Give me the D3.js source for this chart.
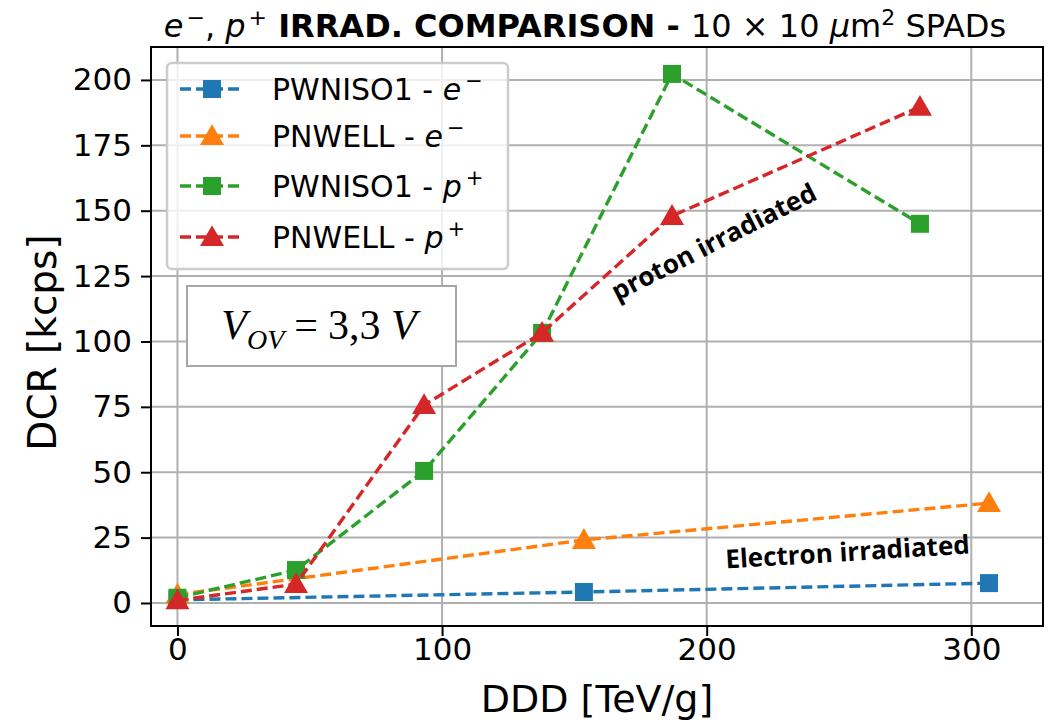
<!DOCTYPE html>
<html>
<head>
<meta charset="utf-8">
<script src="https://cdn.jsdelivr.net/npm/d3@7"></script>
<style>
  body { margin: 0; background: #fff; }
  text { font-family: "DejaVu Sans", sans-serif; fill: #000; }
</style>
</head>
<body>
<svg id="chart" width="1056" height="724"></svg>
<script>
// data
const dddE = [0, 153.6, 306.7];
const pwniso1E = [1.2, 4.2, 7.6];
const pnwellE = [3.2, 24.1, 38.2];
const dddP = [0, 44.8, 93.2, 137.8, 186.9, 280.6];
const pwniso1P = [2.0, 12.6, 50.5, 103.3, 202.3, 145.0];
const pnwellP = [1.0, 7.2, 75.7, 103.3, 148.0, 189.7];
const xTicks = [0, 100, 200, 300];
const yTicks = [0, 25, 50, 75, 100, 125, 150, 175, 200];

const series = [
  { name: "PWNISO1", part: "e", sup: "\u2212", x: dddE, y: pwniso1E, color: "#1f77b4", marker: "square" },
  { name: "PNWELL", part: "e", sup: "\u2212", x: dddE, y: pnwellE, color: "#ff7f0e", marker: "triangle" },
  { name: "PWNISO1", part: "p", sup: "+", x: dddP, y: pwniso1P, color: "#2ca02c", marker: "square" },
  { name: "PNWELL", part: "p", sup: "+", x: dddP, y: pnwellP, color: "#d62728", marker: "triangle" },
];

const svg = d3.select("#chart");
const m = { left: 151, right: 1043, top: 47, bottom: 626 };

const x = d3.scaleLinear().domain([-10, 327.1]).range([m.left, m.right]);
const y = d3.scaleLinear().domain([-8.8, 212.6]).range([m.bottom, m.top]);

// grid
const grid = svg.append("g").attr("class", "grid");
grid.selectAll(".gx").data(xTicks).join("line")
  .attr("x1", d => x(d)).attr("x2", d => x(d))
  .attr("y1", m.top).attr("y2", m.bottom)
  .attr("stroke", "#b0b0b0").attr("stroke-width", 2);
grid.selectAll(".gy").data(yTicks).join("line")
  .attr("x1", m.left).attr("x2", m.right)
  .attr("y1", d => y(d)).attr("y2", d => y(d))
  .attr("stroke", "#b0b0b0").attr("stroke-width", 2);

// axes
const xAxis = svg.append("g")
  .attr("transform", `translate(0,${m.bottom})`)
  .call(d3.axisBottom(x).tickValues(xTicks).tickSize(10).tickPadding(2));
const yAxis = svg.append("g")
  .attr("transform", `translate(${m.left},0)`)
  .call(d3.axisLeft(y).tickValues(yTicks).tickSize(10).tickPadding(9));
[xAxis, yAxis].forEach(a => {
  a.select(".domain").remove();
  a.selectAll(".tick line").attr("stroke", "#000").attr("stroke-width", 2);
  a.selectAll(".tick text").attr("font-size", 31).attr("font-family", "DejaVu Sans").attr("fill", "#000");
});

// markers
const sym = {
  square: d3.symbol().type(d3.symbolSquare).size(18 * 18),
  triangle: d3.symbol().type(d3.symbolTriangle).size(250),
};

const line = d3.line().x(d => x(d[0])).y(d => y(d[1]));
const plot = svg.append("g");
series.forEach(s => {
  const pts = s.x.map((v, i) => [v, s.y[i]]);
  const g = plot.append("g");
  g.append("path").datum(pts)
    .attr("d", line)
    .attr("fill", "none")
    .attr("stroke", s.color)
    .attr("stroke-width", 3.4)
    .attr("stroke-dasharray", "11,5");
  g.selectAll("path.mk").data(pts).join("path")
    .attr("class", "mk")
    .attr("d", sym[s.marker])
    .attr("transform", d => `translate(${x(d[0])},${y(d[1]) + (s.marker === "triangle" ? 2 : 0)})`)
    .attr("fill", s.color);
});

// frame
svg.append("rect")
  .attr("x", m.left).attr("y", m.top)
  .attr("width", m.right - m.left).attr("height", m.bottom - m.top)
  .attr("fill", "none").attr("stroke", "#000").attr("stroke-width", 2);

// legend
const lg = svg.append("g");
lg.append("rect")
  .attr("x", 167).attr("y", 63).attr("width", 341).attr("height", 206)
  .attr("rx", 5)
  .attr("fill", "#fff").attr("fill-opacity", 0.8)
  .attr("stroke", "#ccc").attr("stroke-width", 2.5);
const rowY = [89, 136, 186, 237];
series.forEach((s, i) => {
  const r = lg.append("g").attr("transform", `translate(0,${rowY[i]})`);
  r.append("line")
    .attr("x1", 180).attr("x2", 243).attr("y1", 0).attr("y2", 0)
    .attr("stroke", s.color).attr("stroke-width", 3.4)
    .attr("stroke-dasharray", "11,5");
  r.append("path")
    .attr("d", sym[s.marker])
    .attr("transform", `translate(212,${s.marker === "triangle" ? 2 : 0})`)
    .attr("fill", s.color);
  const t = r.append("text").attr("x", 272).attr("y", 11).attr("font-size", 30);
  t.append("tspan").text(s.name + " - ");
  t.append("tspan").attr("font-style", "italic").text(s.part);
  t.append("tspan").attr("font-size", 21).attr("dy", -12).attr("dx", 4).text(s.sup);
});

// V_OV box
const vb = svg.append("g");
vb.append("rect")
  .attr("x", 187).attr("y", 286).attr("width", 269).attr("height", 80)
  .attr("fill", "#fff").attr("stroke", "#a6a6a6").attr("stroke-width", 2);
const vt = vb.append("text")
  .attr("x", 319).attr("y", 339).attr("text-anchor", "middle")
  .style("font-family", "'Liberation Serif', serif").attr("font-size", 42);
vt.append("tspan").attr("font-style", "italic").text("V");
vt.append("tspan").attr("font-style", "italic").attr("font-size", 28).attr("dy", 10).text("OV");
vt.append("tspan").attr("dy", -10).attr("dx", 10).text("=");
vt.append("tspan").attr("dx", 10).text("3,3 ");
vt.append("tspan").attr("font-style", "italic").text("V");

// annotations
svg.append("text")
  .attr("transform", "translate(718,250) rotate(-27)")
  .attr("text-anchor", "middle")
  .style("font-family", "'Open Sans', sans-serif").attr("font-weight", "bold")
  .attr("font-size", 26).text("proton irradiated");
svg.append("text")
  .attr("transform", "translate(848,561) rotate(-3.5)")
  .attr("text-anchor", "middle")
  .style("font-family", "'Open Sans', sans-serif").attr("font-weight", "bold")
  .attr("font-size", 26).text("Electron irradiated");

// axis labels
svg.append("text")
  .attr("x", (m.left + m.right) / 2).attr("y", 712)
  .attr("text-anchor", "middle").attr("font-size", 38)
  .text("DDD [TeV/g]");
svg.append("text")
  .attr("transform", `translate(56,${(m.top + m.bottom) / 2 + 6}) rotate(-90)`)
  .attr("text-anchor", "middle").attr("font-size", 39)
  .text("DCR [kcps]");

// title
const tt = svg.append("text")
  .attr("x", 585).attr("y", 37)
  .attr("text-anchor", "middle").attr("font-size", 32);
tt.append("tspan").attr("font-style", "italic").text("e");
tt.append("tspan").attr("font-size", 22).attr("dy", -12).attr("dx", 3).text("\u2212");
tt.append("tspan").attr("dy", 12).text(", ");
tt.append("tspan").attr("font-style", "italic").text("p");
tt.append("tspan").attr("font-size", 22).attr("dy", -12).attr("dx", 3).text("+");
tt.append("tspan").attr("dy", 12).attr("font-weight", "bold").text(" IRRAD. COMPARISON - ");
tt.append("tspan").text("10 \u00d7 10 ");
tt.append("tspan").attr("font-style", "italic").text("\u03bc");
tt.append("tspan").text("m");
tt.append("tspan").attr("font-size", 22).attr("dy", -12).text("2");
tt.append("tspan").attr("dy", 12).text(" SPADs");
</script>
</body>
</html>
